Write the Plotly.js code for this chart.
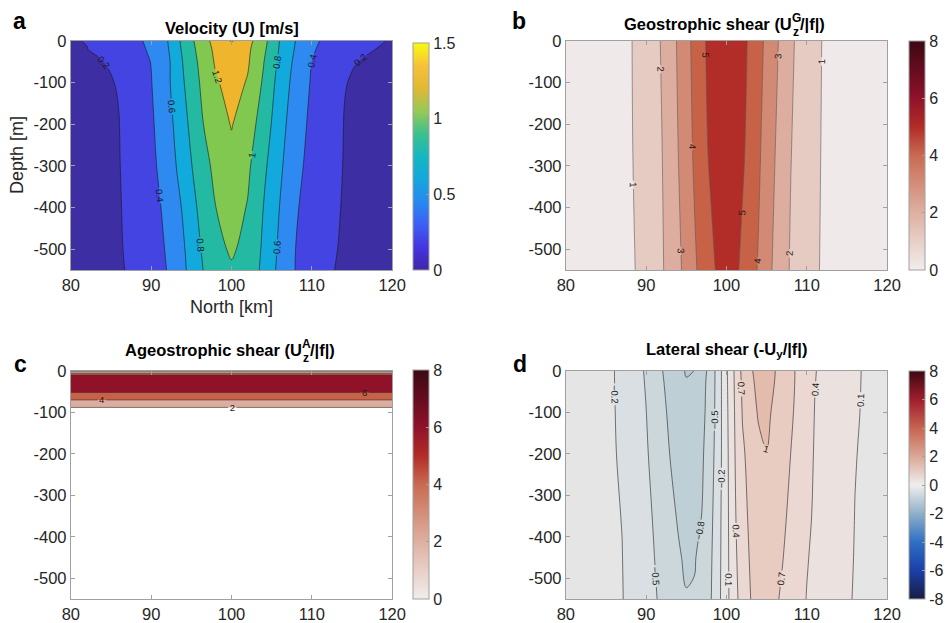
<!DOCTYPE html>
<html>
<head>
<meta charset="utf-8">
<script src="https://cdn.plot.ly/plotly-3.0.1.min.js"></script>
<style>html,body{margin:0;padding:0;background:#fff;}#chart{width:948px;height:623px;}</style>
</head>
<body>
<div id="chart"></div>
<script>
// ---------------- DATA ----------------
// Panel a: velocity U [m/s]
const northA = [80,82,84,86,88,90,92,94,96,98,100,102,104,106,108,110,112,114,116,118,120];
const depthA = [0,-20,-50,-100,-200,-300,-400,-500,-550];
const velocityU = [
  [0.19,0.205,0.269,0.317,0.364,0.438,0.592,0.853,1.075,1.27,1.41,1.265,1.0625,0.795,0.595,0.433,0.364,0.319,0.274,0.215,0.19],
  [0.185,0.197,0.242,0.297,0.353,0.423,0.577,0.837,1.053,1.241,1.35,1.239,1.0375,0.784,0.580,0.416,0.353,0.300,0.247,0.1986,0.185],
  [0.17,0.183,0.197,0.256,0.329,0.404,0.555,0.811,1.027,1.22,1.32,1.224,1.006,0.756,0.554,0.399,0.326,0.252,0.19,0.18,0.17],
  [0.155,0.170,0.186,0.206,0.300,0.393,0.557,0.7875,0.998,1.174,1.28,1.185,0.973,0.722,0.528,0.382,0.293,0.204,0.186,0.170,0.155],
  [0.15,0.166,0.182,0.198,0.279,0.372,0.524,0.731,0.965,1.103,1.21,1.095,0.911,0.675,0.489,0.357,0.272,0.198,0.182,0.166,0.15],
  [0.148,0.164,0.179,0.195,0.262,0.354,0.491,0.686,0.897,1.047,1.14,1.036,0.842,0.635,0.453,0.340,0.255,0.195,0.179,0.164,0.148],
  [0.145,0.161,0.176,0.192,0.244,0.333,0.443,0.622,0.833,0.997,1.08,0.990,0.795,0.596,0.418,0.322,0.235,0.191,0.176,0.16,0.145],
  [0.143,0.159,0.174,0.19,0.231,0.32,0.416,0.58,0.78,0.977,1.01,0.977,0.762,0.566,0.398,0.309,0.218,0.188,0.173,0.158,0.143],
  [0.142,0.157,0.173,0.188,0.222,0.312,0.404,0.564,0.755,0.95,0.99,0.95,0.743,0.552,0.392,0.302,0.209,0.187,0.172,0.157,0.142]
];

// Panels b, d: 1 km grid
const northKm = [80,81,82,83,84,85,86,87,88,89,90,91,92,93,94,95,96,97,98,99,100,101,102,103,104,105,106,107,108,109,110,111,112,113,114,115,116,117,118,119,120];

// Panel b: geostrophic shear U_z^G/|f|
const depthB = [0,-275,-550];
const geoShear = [
  [0.25,0.338,0.426,0.514,0.602,0.690,0.777,0.865,0.953,1.142,1.444,1.746,2.082,2.595,3.118,3.680,4.259,4.861,5.208,5.479,5.75,5.475,5.201,4.856,4.321,3.785,3.247,2.710,2.172,1.795,1.494,1.193,0.968,0.878,0.788,0.698,0.609,0.519,0.429,0.340,0.25],
  [0.25,0.337,0.423,0.510,0.597,0.684,0.770,0.857,0.944,1.104,1.403,1.701,1.995,2.5,2.995,3.556,4.114,4.686,5.129,5.414,5.7,5.408,5.117,4.676,4.135,3.583,3.028,2.525,2.025,1.721,1.426,1.132,0.952,0.864,0.776,0.689,0.601,0.513,0.425,0.338,0.25],
  [0.25,0.335,0.419,0.504,0.589,0.673,0.758,0.843,0.927,1.041,1.335,1.629,1.924,2.338,2.795,3.302,3.852,4.313,4.742,5.171,5.6,5.218,4.811,4.373,3.916,3.354,2.821,2.338,1.917,1.639,1.361,1.083,0.940,0.853,0.767,0.681,0.595,0.509,0.422,0.336,0.25]
];

// Panel c: ageostrophic shear U_z^A/|f| (uniform in north)
const northC = [80,120];
const depthC = [0,-3,-6,-10,-20,-40,-50,-60,-70,-80,-88,-95,-550];
const ageoShear = [1.0,3.0,4.2,6.1,6.8,6.7,6.2,5.1,3.98,2.9,1.98,0.5,0.0];

// Panel d: lateral shear -U_y/|f|
const depthD = [0,-25,-100,-200,-350,-450,-550];
const latShear = [
  [-0.05,-0.074,-0.099,-0.123,-0.147,-0.171,-0.196,-0.269,-0.353,-0.436,-0.530,-0.662,-0.793,-0.906,-1.017,-1.123,-1.098,-0.917,-0.697,-0.354,0.06,0.423,0.777,0.971,1.076,1.095,1.009,0.8875,0.7625,0.642,0.527,0.412,0.350,0.295,0.240,0.185,0.130,0.091,0.071,0.050,0.03],
  [-0.05,-0.074,-0.098,-0.123,-0.147,-0.171,-0.195,-0.266,-0.348,-0.430,-0.520,-0.650,-0.780,-0.876,-0.975,-1.085,-1.03,-0.882,-0.692,-0.352,0.053,0.416,0.758,0.952,1.062,1.085,0.999,0.88,0.76,0.641,0.524,0.406,0.348,0.293,0.238,0.183,0.128,0.090,0.070,0.050,0.03],
  [-0.05,-0.073,-0.097,-0.120,-0.144,-0.167,-0.191,-0.249,-0.332,-0.414,-0.496,-0.619,-0.744,-0.846,-0.930,-1.03,-0.978,-0.863,-0.674,-0.344,0.038,0.398,0.718,0.894,1.024,1.044,0.961,0.85,0.739,0.624,0.506,0.394,0.339,0.284,0.229,0.174,0.119,0.088,0.068,0.049,0.03],
  [-0.05,-0.073,-0.095,-0.118,-0.141,-0.164,-0.186,-0.232,-0.312,-0.392,-0.472,-0.576,-0.694,-0.808,-0.884,-0.975,-0.95,-0.83,-0.633,-0.333,0.022,0.382,0.659,0.799,0.94,0.995,0.92,0.79,0.699,0.589,0.478,0.383,0.328,0.272,0.217,0.161,0.106,0.084,0.066,0.048,0.03],
  [-0.05,-0.072,-0.093,-0.115,-0.136,-0.158,-0.179,-0.204,-0.282,-0.360,-0.438,-0.521,-0.629,-0.736,-0.823,-0.9,-0.88,-0.79,-0.583,-0.3,0.014,0.357,0.606,0.757,0.853,0.91,0.82,0.742,0.653,0.55,0.447,0.369,0.313,0.257,0.201,0.145,0.097,0.080,0.063,0.047,0.03],
  [-0.05,-0.071,-0.092,-0.112,-0.133,-0.154,-0.175,-0.196,-0.262,-0.340,-0.418,-0.496,-0.588,-0.680,-0.772,-0.84,-0.82,-0.717,-0.55,-0.286,0.012,0.333,0.566,0.729,0.812,0.86,0.778,0.707,0.611,0.513,0.415,0.353,0.297,0.242,0.186,0.131,0.093,0.077,0.061,0.046,0.03],
  [-0.05,-0.070,-0.091,-0.111,-0.131,-0.151,-0.172,-0.192,-0.246,-0.322,-0.398,-0.473,-0.547,-0.618,-0.72,-0.785,-0.775,-0.68,-0.53,-0.271,0.008,0.307,0.524,0.699,0.767,0.815,0.74,0.663,0.571,0.478,0.392,0.337,0.282,0.227,0.172,0.117,0.090,0.075,0.060,0.045,0.03]
];

// Tick labels
const xTicks = [80,90,100,110,120];
const yTicks = [0,-100,-200,-300,-400,-500];
const yTickText = ['0','-100','-200','-300','-400','-500'];

// ---------------- STYLE ----------------
const bandsA = ['#3d2ea3','#4444e3','#2e8af0','#12aadd','#24b9a3','#80c84f','#efb52d','#f8e523'];
const bandsB = ['#f0e9e9','#e6cbc3','#ddae9f','#d38a74','#c86247','#b22d27'];
const bandsC = ['#ffffff','#ddae9f','#c86247','#8f1229'];
const bandsD = ['#b3c9d3','#bfcfd6','#ccd7dc','#d9dfe2','#e6e5e6','#ebe2e0','#ebd8d2','#e8cbc1','#e3bcae'];

const parula = [[0,'#3e26a8'],[0.1,'#4634e0'],[0.2,'#3d5ff5'],[0.3,'#2789ef'],[0.4,'#15a6dd'],[0.5,'#14b7c0'],[0.6,'#3cc08f'],[0.7,'#97c955'],[0.8,'#e1b833'],[0.9,'#f6c13a'],[1,'#f9fb0e']];
const amp = [[0,'#f1eded'],[0.125,'#e8cfc7'],[0.25,'#deb0a1'],[0.375,'#d48e79'],[0.5,'#c96a52'],[0.625,'#b22d27'],[0.75,'#8f1229'],[0.875,'#650c20'],[1,'#3c0912']];
const balance = [[0,'#181c43'],[0.125,'#1b3fa8'],[0.25,'#2f6fc4'],[0.375,'#8fb0c9'],[0.5,'#f0eeee'],[0.625,'#dba796'],[0.75,'#c66450'],[0.875,'#a01d2c'],[1,'#3c0912']];

const FONT = 'Liberation Sans, Arial, Helvetica, sans-serif';
const W = 948, H = 623;
const px = v => v / W;
const py = v => 1 - v / H;

function contourTrace(x, y, z, start, end, size, colors, xa, ya, lineColor) {
  const nc = Math.round((end - start) / size) + 1;
  const cs = colors.map((c, i) => [i / nc, c]);
  return {
    type: 'contour', x: x, y: y, z: z, xaxis: xa, yaxis: ya,
    colorscale: cs, showscale: false, autocontour: false,
    contours: {start: start, end: end, size: size, coloring: 'fill', showlabels: true,
      labelfont: {size: 9.5, color: '#1a1a1a', family: FONT}, labelformat: '.3~g'},
    line: {width: 0.6, color: lineColor, smoothing: 1},
    hoverinfo: 'skip'
  };
}
function cbTrace(zmin, zmax, scale, xa, ya, cb) {
  return {
    type: 'heatmap', x: [0, 1], y: [5000, 5001], z: [[zmin, zmax], [zmin, zmax]],
    zmin: zmin, zmax: zmax, colorscale: scale, xaxis: xa, yaxis: ya,
    showscale: true, hoverinfo: 'skip', colorbar: cb
  };
}
function cbOpts(left, top, bottom, tickvals, ticktext) {
  return {
    x: px(left), xanchor: 'left', xpad: 0, y: py(top), yanchor: 'top', ypad: 0,
    len: bottom - top, lenmode: 'pixels', thickness: 16, thicknessmode: 'pixels',
    outlinewidth: 1, outlinecolor: '#a0a0a0', tickvals: tickvals, ticktext: ticktext,
    ticks: 'inside', ticklen: 3, tickcolor: '#a0a0a0',
    tickfont: {size: 16, family: FONT, color: '#262626'}
  };
}

const ageoZ = ageoShear.map(v => [v, v]);

const data = [
  contourTrace(northA, depthA, velocityU, 0.2, 1.4, 0.2, bandsA, 'x', 'y', '#1a1a1a'),
  contourTrace(northKm, depthB, geoShear, 1, 5, 1, bandsB, 'x2', 'y2', '#5a5a5a'),
  contourTrace(northC, depthC, ageoZ, 2, 6, 2, bandsC, 'x3', 'y3', '#333333'),
  contourTrace(northKm, depthD, latShear, -1.1, 1.0, 0.3, bandsD, 'x4', 'y4', '#222222'),
  cbTrace(0, 1.5, parula, 'x', 'y', cbOpts(414, 43, 270, [0, 0.5, 1, 1.5], ['0', '0.5', '1', '1.5'])),
  cbTrace(0, 8, amp, 'x2', 'y2', cbOpts(911, 41, 270, [0, 2, 4, 6, 8], ['0', '2', '4', '6', '8'])),
  cbTrace(0, 8, amp, 'x3', 'y3', cbOpts(414, 370, 599, [0, 2, 4, 6, 8], ['0', '2', '4', '6', '8'])),
  cbTrace(-8, 8, balance, 'x4', 'y4', cbOpts(911, 371, 599, [-8, -6, -4, -2, 0, 2, 4, 6, 8], ['-8', '-6', '-4', '-2', '0', '2', '4', '6', '8']))
];

function xAxis(l, r, anchor) {
  return {domain: [px(l), px(r)], anchor: anchor, range: [80, 120], tickvals: xTicks,
    ticktext: xTicks.map(String), showline: true, linecolor: '#a0a0a0', linewidth: 1,
    mirror: 'allticks', ticks: 'inside', ticklen: 4, tickcolor: '#a0a0a0',
    showgrid: false, zeroline: false, tickfont: {size: 16.5, family: FONT, color: '#262626'}};
}
function yAxis(t, b, anchor) {
  return {domain: [py(b), py(t)], anchor: anchor, range: [-550, 0], tickvals: yTicks,
    ticktext: yTickText, showline: true, linecolor: '#a0a0a0', linewidth: 1,
    mirror: 'allticks', ticks: 'inside', ticklen: 4, tickcolor: '#a0a0a0',
    showgrid: false, zeroline: false, tickfont: {size: 16.5, family: FONT, color: '#262626'}};
}

function ann(text, x, y, size, opts) {
  return Object.assign({text: text, x: px(x), y: py(y), xref: 'paper', yref: 'paper',
    xanchor: 'center', yanchor: 'middle', showarrow: false, borderpad: 0,
    font: {size: size, family: FONT, color: '#000'}}, opts || {});
}

// measure text to build titles with stacked super/subscripts
const ctx = document.createElement('canvas').getContext('2d');
function tw(text, size) { ctx.font = 'bold ' + size + 'px "Liberation Sans"'; return ctx.measureText(text).width; }
const TS = 16.5, SS = 12;
function stackedTitle(left, sup, sub, right, cx, cy) {
  const wl = tw(left, TS), ws = Math.max(tw(sup, SS), tw(sub, SS)), wr = tw(right, TS);
  const x0 = cx - (wl + ws + wr) / 2;
  return [
    ann('<b>' + left + '</b>', x0 + wl, cy, TS, {xanchor: 'right'}),
    ann('<b>' + sup + '</b>', x0 + wl - 2, cy - 6, SS, {xanchor: 'left'}),
    ann('<b>' + sub + '</b>', x0 + wl - 1.5, cy + 8, SS, {xanchor: 'left'}),
    ann('<b>' + right + '</b>', x0 + wl + ws - 3, cy, TS, {xanchor: 'left'})
  ];
}

const annotations = [
  ann('<b>a</b>', 19.5, 21, 23),
  ann('<b>b</b>', 520, 21, 23),
  ann('<b>c</b>', 21, 364, 23),
  ann('<b>d</b>', 521, 364, 23),
  ann('<b>Velocity (U) [m/s]</b>', 232, 28, TS),
  ann('<b>Lateral shear (-U<sub>y</sub>/|f|)</b>', 728, 350, TS),
  ann('Depth [m]', 17, 155, 18, {textangle: -90, font: {size: 18, family: FONT, color: '#262626'}}),
  ann('North [km]', 232, 307, 18, {font: {size: 18, family: FONT, color: '#262626'}})
].concat(
  stackedTitle('Geostrophic shear (U', 'G', 'z', '/|f|)', 728, 24),
  stackedTitle('Ageostrophic shear (U', 'A', 'z', '/|f|)', 232, 350)
);

const layout = {
  width: W, height: H, margin: {l: 0, r: 0, t: 0, b: 0},
  paper_bgcolor: '#fff', plot_bgcolor: '#fff', showlegend: false,
  font: {family: FONT, size: 15, color: '#262626'},
  xaxis: xAxis(71, 393, 'y'), yaxis: yAxis(41, 270, 'x'),
  xaxis2: xAxis(567, 889, 'y2'), yaxis2: yAxis(41, 270, 'x2'),
  xaxis3: xAxis(71, 393, 'y3'), yaxis3: yAxis(371, 599, 'x3'),
  xaxis4: xAxis(567, 889, 'y4'), yaxis4: yAxis(371, 599, 'x4'),
  annotations: annotations
};

Plotly.newPlot('chart', data, layout, {staticPlot: true, displayModeBar: false});
</script>
</body>
</html>
